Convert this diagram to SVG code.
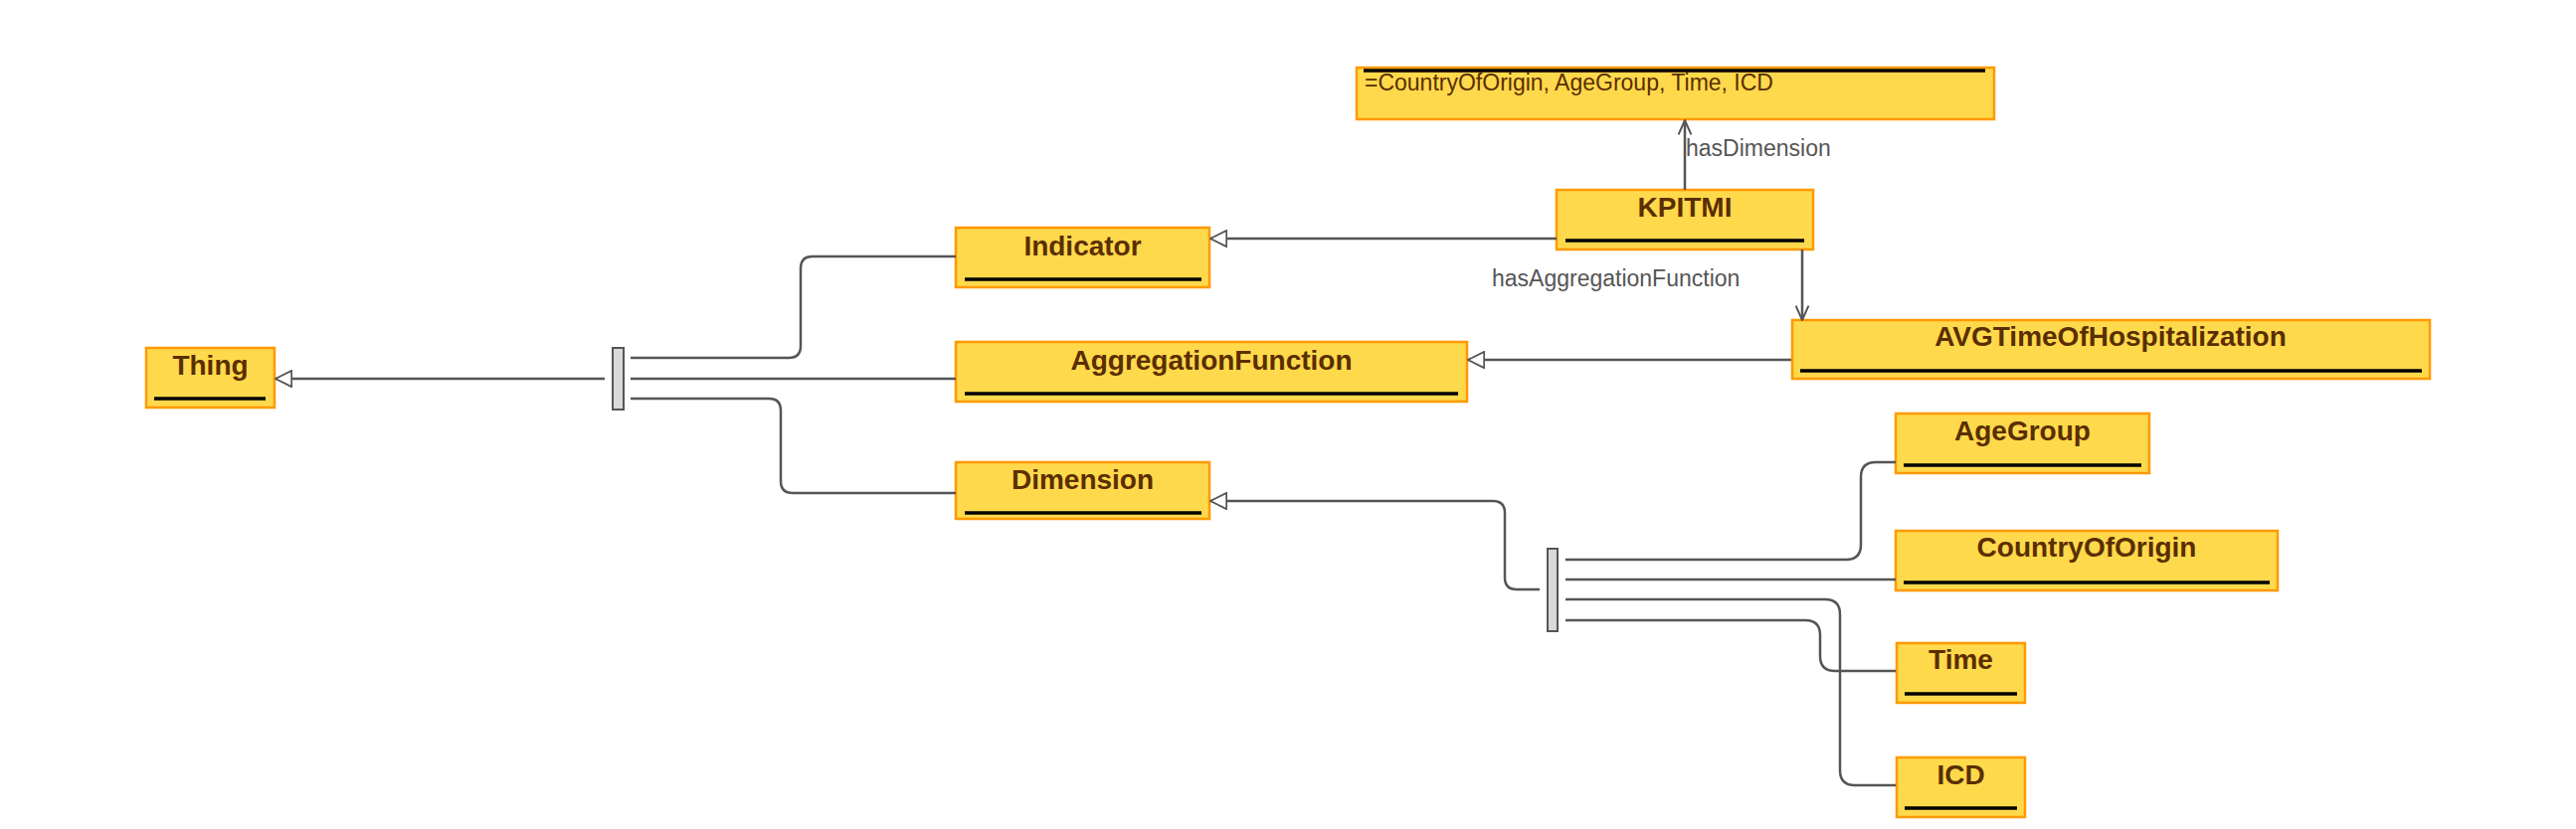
<svg xmlns="http://www.w3.org/2000/svg" width="2590" height="834" viewBox="0 0 2590 834">
<style>
.box{fill:#ffd94c;stroke:#ff9900;stroke-width:2.5}
.ul{stroke:#000;stroke-width:3.5}
.t{font-family:"Liberation Sans",Arial,sans-serif;font-size:28px;font-weight:bold;fill:#5a2e00;text-anchor:middle}
.v{font-family:"Liberation Sans",Arial,sans-serif;font-size:23px;fill:#5a2e00}
.lbl{font-family:"Liberation Sans",Arial,sans-serif;font-size:23px;fill:#555}
.e{fill:none;stroke:#555;stroke-width:2.5}
.bar{fill:#d9d9d9;stroke:#555;stroke-width:2}
</style>
<defs>
<marker id="tri" viewBox="0 0 20 20" refX="19" refY="10" markerWidth="18" markerHeight="18" markerUnits="userSpaceOnUse" orient="auto">
<path d="M1,1 L19,10 L1,19 Z" fill="#fff" stroke="#555" stroke-width="2"/>
</marker>
<marker id="vee" viewBox="0 0 20 20" refX="19" refY="10" markerWidth="16" markerHeight="16" markerUnits="userSpaceOnUse" orient="auto">
<path d="M1,2 L19,10 L1,18" fill="none" stroke="#555" stroke-width="2.5"/>
</marker>
</defs>
<g id="bar1"><rect class="bar" x="616" y="350" width="11" height="62"/></g>
<g id="bar2"><rect class="bar" x="1556" y="552" width="10" height="83"/></g>
<g id="dimvalues">
<rect class="box" x="1364" y="68" width="641" height="52"/>
<line class="ul" x1="1371" y1="71" x2="1996" y2="71"/>
<text class="v" x="1372" y="91">=CountryOfOrigin, AgeGroup, Time, ICD</text>
</g>
<g id="Thing">
<rect class="box" x="147" y="350" width="129" height="60"/>
<line class="ul" x1="155" y1="401" x2="267" y2="401"/>
<text class="t" x="211.5" y="377">Thing</text>
</g>
<g id="KPITMI">
<rect class="box" x="1565" y="191" width="258" height="60"/>
<line class="ul" x1="1574" y1="242" x2="1814" y2="242"/>
<text class="t" x="1694" y="218">KPITMI</text>
</g>
<g id="Indicator">
<rect class="box" x="961" y="229" width="255" height="60"/>
<line class="ul" x1="970" y1="281" x2="1208" y2="281"/>
<text class="t" x="1088.5" y="257">Indicator</text>
</g>
<g id="AggregationFunction">
<rect class="box" x="961" y="344" width="514" height="60"/>
<line class="ul" x1="970" y1="396" x2="1466" y2="396"/>
<text class="t" x="1218" y="372">AggregationFunction</text>
</g>
<g id="Dimension">
<rect class="box" x="961" y="465" width="255" height="57"/>
<line class="ul" x1="970" y1="516" x2="1208" y2="516"/>
<text class="t" x="1088.5" y="492">Dimension</text>
</g>
<g id="AVGTimeOfHospitalization">
<rect class="box" x="1802" y="322" width="641" height="59"/>
<line class="ul" x1="1810" y1="373" x2="2435" y2="373"/>
<text class="t" x="2122" y="348">AVGTimeOfHospitalization</text>
</g>
<g id="AgeGroup">
<rect class="box" x="1906" y="416" width="255" height="60"/>
<line class="ul" x1="1914" y1="468" x2="2153" y2="468"/>
<text class="t" x="2033.5" y="443">AgeGroup</text>
</g>
<g id="CountryOfOrigin">
<rect class="box" x="1906" y="534" width="384" height="60"/>
<line class="ul" x1="1914" y1="586" x2="2282" y2="586"/>
<text class="t" x="2098" y="560">CountryOfOrigin</text>
</g>
<g id="Time">
<rect class="box" x="1907" y="647" width="129" height="60"/>
<line class="ul" x1="1915" y1="698" x2="2028" y2="698"/>
<text class="t" x="1971.5" y="673">Time</text>
</g>
<g id="ICD">
<rect class="box" x="1907" y="762" width="129" height="60"/>
<line class="ul" x1="1915" y1="813" x2="2028" y2="813"/>
<text class="t" x="1971.5" y="789">ICD</text>
</g>
<g id="connectors">
<path class="e" d="M608,381 H277" marker-end="url(#tri)"/>
<path class="e" d="M634,360 H793 Q805,360 805,348 V270 Q805,258 817,258 H961"/>
<path class="e" d="M634,381 H961"/>
<path class="e" d="M634,401 H773 Q785,401 785,413 V484 Q785,496 797,496 H961"/>
<path class="e" d="M1565,240 H1217" marker-end="url(#tri)"/>
<path class="e" d="M1801,362 H1476" marker-end="url(#tri)"/>
<path class="e" d="M1548,593 H1525 Q1513,593 1513,581 V516 Q1513,504 1501,504 H1217" marker-end="url(#tri)"/>
<path class="e" d="M1694,191 V121" marker-end="url(#vee)"/>
<path class="e" d="M1812,251 V322" marker-end="url(#vee)"/>
<path class="e" d="M1574,563 H1856 Q1871,563 1871,548 V480 Q1871,465 1886,465 H1906"/>
<path class="e" d="M1574,583 H1906"/>
<path class="e" d="M1574,603 H1835 Q1850,603 1850,618 V775 Q1850,790 1865,790 H1906"/>
<path class="e" d="M1574,624 H1815 Q1830,624 1830,639 V660 Q1830,675 1845,675 H1906"/>
<text class="lbl" x="1695" y="157">hasDimension</text>
<text class="lbl" x="1500" y="288">hasAggregationFunction</text>
</g>
</svg>
